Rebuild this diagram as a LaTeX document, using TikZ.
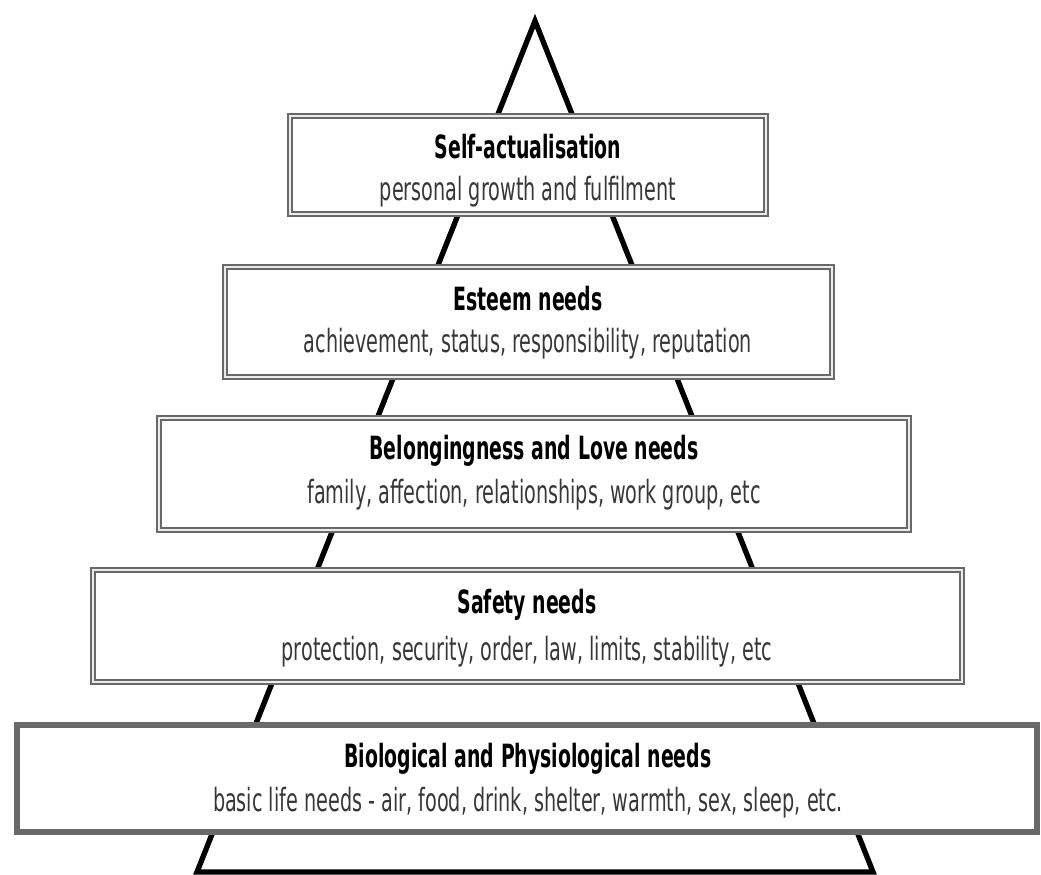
\documentclass[tikz,border=0pt]{standalone}
\usepackage{fontspec}
\newfontfamily\subfont{DejaVu Sans}[FakeStretch=0.60]
\newfontfamily\titlefont{DejaVu Sans}[FakeStretch=0.59]
\definecolor{boxgray}{RGB}{105,105,105}
\definecolor{gapgray}{RGB}{235,235,235}
\definecolor{subtext}{RGB}{55,55,55}
\begin{document}
\begin{tikzpicture}[x=0.75pt,y=-0.75pt,
  dbox/.style={draw=boxgray, line width=1.5pt, double=gapgray, double distance=1.5pt, fill=white},
  sbox/.style={draw=boxgray, line width=4.5pt, fill=white},
  pyramid/.style={draw=black, line width=4pt, line join=miter},
  title/.style={font=\titlefont\bfseries\fontsize{24}{28}\selectfont, text=black, inner sep=0pt, anchor=base},
  sub/.style={font=\subfont\fontsize{24}{28}\selectfont, text=subtext, inner sep=0pt, anchor=base}]
\useasboundingbox (0,0) rectangle (1041,874);
\fill[white] (0,0) rectangle (1041,874);
% pyramid outline
\coordinate (apex) at (535,21);
\coordinate (bl) at (197,872);
\coordinate (br) at (873,872);
\draw[pyramid] (bl) -- (apex) -- (br) -- cycle;
% boxes
\draw[dbox] (290,116) rectangle (766,214);
\draw[dbox] (225,267) rectangle (832,377);
\draw[dbox] (159,418) rectangle (909,530);
\draw[dbox] (93,570) rectangle (962,682);
\draw[sbox] (17,725) rectangle (1037,832);
% texts
\node[title] (t1) at (528,158) {Self-actualisation};
\node[sub]   (s1) at (528,200) {personal growth and fulfilment};
\node[title] (t2) at (528,310) {Esteem needs};
\node[sub]   (s2) at (528,352) {achievement, status, responsibility, reputation};
\node[title] (t3) at (534,459) {Belongingness and Love needs};
\node[sub]   (s3) at (534,503) {family, affection, relationships, work group, etc};
\node[title] (t4) at (527,613) {Safety needs};
\node[sub]   (s4) at (527,660) {protection, security, order, law, limits, stability, etc};
\node[title] (t5) at (528,767) {Biological and Physiological needs};
\node[sub]   (s5) at (528,811) {basic life needs - air, food, drink, shelter, warmth, sex, sleep, etc.};
\end{tikzpicture}
\end{document}
